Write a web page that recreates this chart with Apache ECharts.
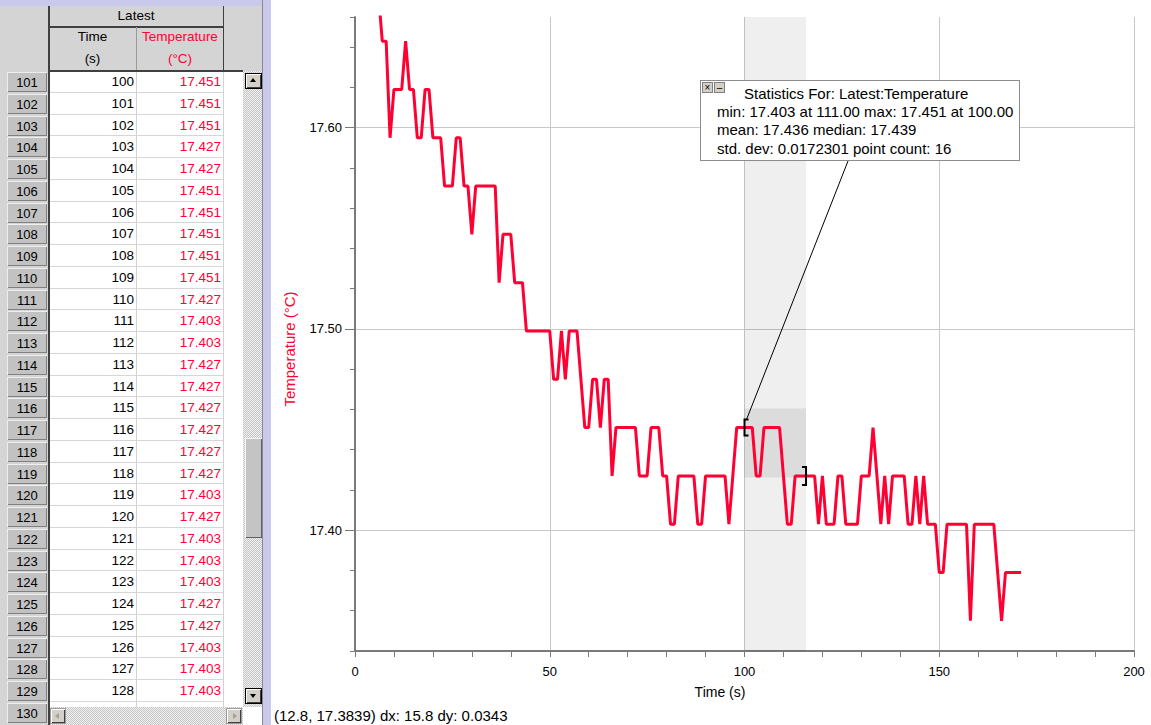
<!DOCTYPE html>
<html>
<head>
<meta charset="utf-8">
<script src="https://cdn.jsdelivr.net/npm/echarts@6/dist/echarts.min.js"></script>
<style>
html,body{margin:0;padding:0;width:1151px;height:725px;overflow:hidden;background:#fff;font-family:'Liberation Sans',Arial,sans-serif;}
#chart{position:absolute;left:0;top:0;width:1151px;height:725px;}
.abs{position:absolute;}
#panel{position:absolute;left:0;top:0;width:263px;height:725px;background:#d4d4d4;overflow:hidden;}
.hd{position:absolute;font-size:13.5px;color:#000;text-align:center;line-height:16px;white-space:nowrap;}
.rh{position:absolute;left:7px;width:40px;height:20px;background:#c2c2c2;box-shadow:inset 1px 1px #eeeeee, inset -1px -1px #808080;font-size:13px;line-height:21px;text-align:center;color:#000;}
.cell{position:absolute;font-size:13.5px;line-height:16px;text-align:right;white-space:nowrap;}
.dither{background:repeating-conic-gradient(#c4c4c4 0% 25%, #f2f2f2 0% 50%) 0 0 / 2px 2px;}
.btn{position:absolute;background:#d4d0c8;box-shadow:inset 1px 1px #ffffff, inset -1px -1px #404040;border:1px solid #000;box-sizing:border-box;}
#stats{position:absolute;left:700px;top:80px;width:320px;height:81px;border:1px solid #8c8c8c;background:#fff;box-sizing:border-box;font-size:15px;color:#000;}
#stats .ln{position:absolute;white-space:nowrap;line-height:18px;}
.sb{position:absolute;top:1px;width:11px;height:11px;background:#d4d0c8;border:1px solid #808080;box-sizing:border-box;font-size:10px;line-height:9px;text-align:center;color:#000;}
#status{position:absolute;left:274px;top:707px;font-size:15px;line-height:18px;color:#000;white-space:nowrap;}
</style>
</head>
<body>
<div id="chart"></div>
<div id="panel"></div>
<div class="abs" style="left:262px;top:0;width:1px;height:725px;background:#8a8a8a;"></div>
<div class="abs" style="left:263px;top:0;width:8px;height:725px;background:#c9c9eb;"></div>
<div id="stats"></div>
<div id="status"></div>
<script>
// ---------------- data ----------------
const times = [6,7,8,9,10,11,12,13,14,15,16,17,18,19,20,21,22,23,24,25,26,27,28,29,30,
  31,32,33,34,35,36,37,38,39,40,41,42,43,44,45,46,47,48,49,50,
  51,52,53,54,55,56,57,58,59,60,61,62,63,64,65,66,67,68,69,70,
  71,72,73,74,75,76,77,78,79,80,81,82,83,84,85,86,87,88,89,90,
  91,92,93,94,95,96,97,98,99,100,101,102,103,104,105,106,107,108,109,110,
  111,112,113,114,115,116,117,118,119,120,121,122,123,124,125,126,127,128,129,130,
  131,132,133,134,135,136,137,138,139,140,141,142,143,144,145,146,147,148,149,150,
  151,152,153,154,155,156,157,158,159,160,161,162,163,164,165,166,167,168,169,170,171];
const temps = [17.667,17.643,17.643,17.595,17.619,17.619,17.619,17.643,17.619,17.619,
  17.595,17.595,17.619,17.619,17.595,17.595,17.595,17.571,17.571,17.571,
  17.595,17.595,17.571,17.571,17.547,
  17.571,17.571,17.571,17.571,17.571,17.571,17.523,17.547,17.547,17.547,
  17.523,17.523,17.523,17.499,17.499,17.499,17.499,17.499,17.499,17.499,
  17.475,17.475,17.499,17.475,17.499,17.499,17.499,17.475,17.451,17.451,
  17.475,17.475,17.451,17.475,17.475,17.427,17.451,17.451,17.451,17.451,
  17.451,17.451,17.427,17.427,17.427,17.451,17.451,17.451,17.427,17.427,
  17.403,17.403,17.427,17.427,17.427,17.427,17.427,17.403,17.403,17.427,
  17.427,17.427,17.427,17.427,17.427,17.403,17.427,17.451,17.451,17.451,
  17.451,17.451,17.427,17.427,17.451,17.451,17.451,17.451,17.451,17.427,
  17.403,17.403,17.427,17.427,17.427,17.427,17.427,17.427,17.403,17.427,
  17.403,17.403,17.403,17.427,17.427,17.403,17.403,17.403,17.403,17.427,
  17.427,17.427,17.451,17.427,17.403,17.427,17.403,17.427,17.427,17.427,
  17.427,17.403,17.403,17.427,17.403,17.427,17.403,17.403,17.403,17.379,
  17.379,17.403,17.403,17.403,17.403,17.403,17.403,17.355,17.403,17.403,
  17.403,17.403,17.403,17.403,17.379,17.355,17.379,17.379,17.379,17.379,17.379];

const xTickValues = [0, 50, 100, 150, 200];
const yMajorTicks = [17.40, 17.50, 17.60];

const tableRowNums = [101,102,103,104,105,106,107,108,109,110,111,112,113,114,115,
  116,117,118,119,120,121,122,123,124,125,126,127,128,129,130];
const tableTime = [100,101,102,103,104,105,106,107,108,109,110,111,112,113,114,
  115,116,117,118,119,120,121,122,123,124,125,126,127,128];
const tableTemp = ['17.451','17.451','17.451','17.427','17.427','17.451','17.451','17.451','17.451','17.451',
  '17.427','17.403','17.403','17.427','17.427','17.427','17.427','17.427','17.427','17.403',
  '17.427','17.403','17.403','17.403','17.427','17.427','17.403','17.403','17.403'];

const selStart = 100, selEnd = 115.8;
const boxLow = 17.4262, boxHigh = 17.4605;
const statsTitle = 'Statistics For: Latest:Temperature';
const statsLines = ['min: 17.403 at 111.00 max: 17.451 at 100.00',
  'mean: 17.436 median: 17.439',
  'std. dev: 0.0172301 point count: 16'];
const statusText = '(12.8, 17.3839) dx: 15.8 dy: 0.0343';

// ---------------- table panel ----------------
const RED = '#ff0033';
const panel = document.getElementById('panel');
function add(parent, cls, css, text){
  const d = document.createElement('div');
  if (cls) d.className = cls;
  d.style.cssText = css;
  if (text !== undefined) d.textContent = text;
  parent.appendChild(d);
  return d;
}
add(panel, 'abs', 'left:0;top:0;width:263px;height:6px;background:#c9c9eb;');
// header
add(panel, 'abs', 'left:48px;top:6px;width:1.5px;height:65px;background:#404040;');
add(panel, 'abs', 'left:222.5px;top:6px;width:1.5px;height:65px;background:#404040;');
add(panel, 'hd', 'left:49px;top:8px;width:174px;', 'Latest');
add(panel, 'abs', 'left:49px;top:26px;width:174px;height:1.5px;background:#404040;');
add(panel, 'abs', 'left:136px;top:27px;width:1px;height:44px;background:#9a9a9a;');
add(panel, 'hd', 'left:49px;top:29px;width:87px;', 'Time');
add(panel, 'hd', 'left:49px;top:51px;width:87px;', '(s)');
add(panel, 'hd', 'left:137px;top:29px;width:86px;color:' + RED + ';', 'Temperature');
add(panel, 'hd', 'left:137px;top:51px;width:86px;color:' + RED + ';', '(°C)');
// data area
const ROW0 = 71, ROWH = 21.75;
const dataArea = add(panel, 'abs', 'left:49.5px;top:71px;width:193.5px;height:636px;background:#fff;overflow:hidden;');
add(panel, 'abs', 'left:49px;top:70px;width:194px;height:1.5px;background:#404040;');
add(panel, 'abs', 'left:48px;top:70px;width:1.5px;height:655px;background:#404040;');
add(dataArea, 'abs', 'left:86.5px;top:0;width:1px;height:636px;background:#d2d2d2;');
add(dataArea, 'abs', 'left:173px;top:0;width:1px;height:636px;background:#d2d2d2;');
tableRowNums.forEach((n, i) => {
  const top = ROW0 + i * ROWH;
  add(panel, 'rh', 'top:' + (top + 1) + 'px;', String(n));
  if (i < tableTime.length) {
    const rt = top - 71;
    add(dataArea, 'abs', 'left:0;top:' + (rt + ROWH - 1) + 'px;width:173px;height:1px;background:#d6d6d6;');
    add(dataArea, 'cell', 'left:0;width:84.5px;top:' + (rt + 3) + 'px;color:#000;', String(tableTime[i]));
    add(dataArea, 'cell', 'left:87px;width:84.5px;top:' + (rt + 3) + 'px;color:' + RED + ';', tableTemp[i]);
  }
});
// vertical scrollbar
add(panel, 'abs dither', 'left:243px;top:71px;width:19px;height:636px;');
const up = add(panel, 'btn', 'left:244.5px;top:73px;width:17px;height:16px;');
add(up, 'abs', 'left:4px;top:4px;width:0;height:0;border-left:3.5px solid transparent;border-right:3.5px solid transparent;border-bottom:4px solid #000;');
const dn = add(panel, 'btn', 'left:244.5px;top:688px;width:17px;height:16px;');
add(dn, 'abs', 'left:4px;top:5px;width:0;height:0;border-left:3.5px solid transparent;border-right:3.5px solid transparent;border-top:4px solid #000;');
add(panel, 'abs', 'left:244.5px;top:438px;width:17px;height:100px;background:#c4c4c4;box-shadow:inset 1px 1px #f4f4f4, inset -1px -1px #606060;');
// horizontal scrollbar
add(panel, 'abs dither', 'left:49.5px;top:707px;width:193.5px;height:18px;');
const lb = add(panel, 'btn', 'left:50px;top:708px;width:16px;height:16px;border-color:#9a9a9a;');
add(lb, 'abs', 'left:4px;top:4px;width:0;height:0;border-top:3.5px solid transparent;border-bottom:3.5px solid transparent;border-right:4px solid #a0a0a0;');
const rb = add(panel, 'btn', 'left:226px;top:708px;width:16px;height:16px;border-color:#9a9a9a;');
add(rb, 'abs', 'left:6px;top:4px;width:0;height:0;border-top:3.5px solid transparent;border-bottom:3.5px solid transparent;border-left:4px solid #a0a0a0;');
add(panel, 'abs', 'left:243px;top:707px;width:19px;height:18px;background:#fff;');

// ---------------- stats box & status ----------------
const stats = document.getElementById('stats');
add(stats, 'sb', 'left:1px;', '×');
add(stats, 'sb', 'left:13px;', '–');
add(stats, 'ln', 'left:43px;top:4px;', statsTitle);
statsLines.forEach((s, i) => add(stats, 'ln', 'left:16px;top:' + (22 + i * 18.3) + 'px;', s));
document.getElementById('status').textContent = statusText;

// ---------------- chart ----------------
const FONT = "'Liberation Sans', Arial, sans-serif";
const AX = '#7a7a7a';
const chart = echarts.init(document.getElementById('chart'), null, {renderer: 'svg'});
const seriesData = times.map((t, i) => [t, temps[i]]);
chart.setOption({
  animation: false,
  grid: {left: 355, right: 17, top: 17, bottom: 74, outerBoundsMode: 'none'},
  xAxis: {
    type: 'value', min: xTickValues[0], max: xTickValues[xTickValues.length - 1], interval: 50,
    axisLine: {show: true, onZero: false, lineStyle: {color: AX, width: 2}},
    axisTick: {show: true, length: 6, lineStyle: {color: AX}},
    minorTick: {show: true, splitNumber: 5, length: 6, lineStyle: {color: AX}},
    splitLine: {show: true, lineStyle: {color: '#c8c8c8', width: 1}},
    minorSplitLine: {show: false},
    axisLabel: {color: '#000', fontSize: 13, fontFamily: FONT, margin: 14}
  },
  yAxis: [{
    type: 'value', min: 17.34, max: 17.655, position: 'left', splitNumber: 3,
    axisLine: {show: true, onZero: false, lineStyle: {color: AX, width: 2}},
    axisTick: {show: true, length: 10, customValues: yMajorTicks, lineStyle: {color: AX}},
    axisLabel: {customValues: yMajorTicks,
      formatter: v => Number(v).toFixed(2), color: '#000', fontSize: 13, fontFamily: FONT, margin: 13},
    splitLine: {show: true, lineStyle: {color: '#c8c8c8', width: 1}}
  }, {
    type: 'value', min: 17.34, max: 17.655, interval: 0.02, position: 'left',
    axisLine: {show: false},
    axisTick: {show: true, length: 5, lineStyle: {color: AX}},
    axisLabel: {show: false},
    splitLine: {show: false}
  }],
  series: [{
    type: 'line', data: seriesData, yAxisIndex: 0, symbol: 'none', showSymbol: false,
    clip: true, z: 3, silent: true,
    lineStyle: {color: RED, width: 3},
    markArea: {
      silent: true, label: {show: false},
      data: [
        [{xAxis: selStart, itemStyle: {color: 'rgba(0,0,0,0.063)'}}, {xAxis: selEnd}],
        [{coord: [selStart, boxLow], itemStyle: {color: 'rgba(0,0,0,0.08)'}}, {coord: [selEnd, boxHigh]}]
      ]
    }
  }]
});

const p0 = chart.convertToPixel({seriesIndex: 0}, [selStart, temps[times.indexOf(100)]]);
const p1 = chart.convertToPixel({seriesIndex: 0}, [selEnd, temps[times.indexOf(116)]]);
chart.setOption({
  graphic: [
    {type: 'polyline', z: 20, shape: {points: [[p0[0] + 4, p0[1] - 8], [p0[0], p0[1] - 8], [p0[0], p0[1] + 8], [p0[0] + 4, p0[1] + 8]]},
      style: {stroke: '#000', lineWidth: 2, fill: 'none'}},
    {type: 'polyline', z: 20, shape: {points: [[p1[0] - 4, p1[1] - 9], [p1[0], p1[1] - 9], [p1[0], p1[1] + 9], [p1[0] - 4, p1[1] + 9]]},
      style: {stroke: '#000', lineWidth: 2, fill: 'none'}},
    {type: 'line', z: 20, shape: {x1: 848, y1: 161, x2: p0[0] + 2, y2: p0[1] - 8},
      style: {stroke: '#000', lineWidth: 1}},
    {type: 'text', z: 20, x: 720, y: 692,
      style: {text: 'Time (s)', fill: '#000', font: '14px ' + FONT, align: 'center', verticalAlign: 'middle'}},
    {type: 'text', z: 20, x: 289, y: 349, rotation: Math.PI / 2,
      style: {text: 'Temperature (°C)', fill: RED, font: '15px ' + FONT, align: 'center', verticalAlign: 'middle'}}
  ]
});
</script>
</body>
</html>
